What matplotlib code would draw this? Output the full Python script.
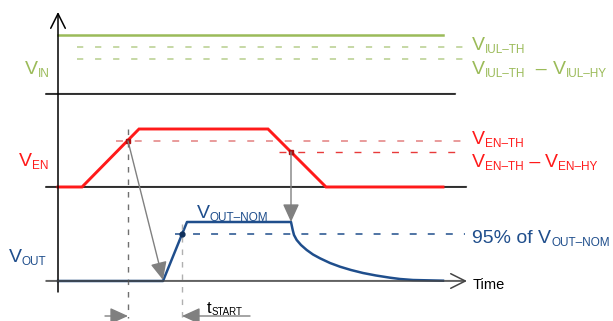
import matplotlib.pyplot as plt

plt.rcParams['font.family'] = ['Liberation Sans', 'DejaVu Sans']
plt.rcParams['lines.scale_dashes'] = False

# 图中坐标（像素单位，y 向下）
# VIN 通道
vin_t = [58, 443]
vin_level = 35
iul_th = 47
iul_th_hy = 59
vin_base = 94

# EN 通道
en_t = [58, 82, 139, 268, 326, 443]
en_v = [187, 187, 129, 129, 187, 187]
en_th = 141
en_th_hy = 152
en_base = 187
en_rise_hit = (128, 141)
en_fall_hit = (291, 152)

# OUT 通道（衰减曲线从图上读点）
out_t = [58, 163, 187, 291, 292.7, 294, 296.7, 301, 306.7, 313, 320, 330,
         340, 351, 363, 376, 390, 400, 413, 443]
out_v = [281, 281, 222, 222, 230, 235, 240, 245, 250, 254.5, 258.3, 263,
         266.7, 270, 273, 275.5, 277.7, 279, 280, 280.7]
out_95 = 234
out_base = 281
out_95_hit = (182, 234)

# 颜色
green = '#9bbb59'
green_d = '#bcd296'
red = '#ff1a1a'
red_d1 = '#e58a8a'
red_d2 = '#e83a3a'
blue = '#1f4e8c'
gray = '#808080'

fig = plt.figure(figsize=(6.13, 3.21), dpi=100)
ax = fig.add_axes([0, 0, 1, 1])
ax.set_xlim(0, 613)
ax.set_ylim(321, 0)
ax.axis('off')
renderer = fig.canvas.get_renderer()


def label(x, y, parts, color):
    # parts: (文字, 字号, 下移像素)；依次排开
    for s, size, dy in parts:
        t = ax.text(x, y + dy, s, color=color, fontsize=size, va='baseline')
        x += t.get_window_extent(renderer).width


# 纵轴
ax.annotate('', xy=(58, 12), xytext=(58, 292),
            arrowprops=dict(arrowstyle='->,head_length=0.7,head_width=0.35',
                            color='black', lw=1.1, mutation_scale=15,
                            shrinkA=0, shrinkB=0))

# 基线
for y, x1 in [(vin_base, 455), (en_base, 466)]:
    ax.plot([46, x1], [y - 1, y - 1], color='#c8c8c8', lw=1.0)
    ax.plot([46, x1], [y, y], color='black', lw=1.1)
ax.plot([46, 463], [out_base - 1, out_base - 1], color='#c8c8c8', lw=1.0)
ax.annotate('', xy=(467, out_base), xytext=(46, out_base),
            arrowprops=dict(arrowstyle='->,head_length=0.7,head_width=0.35',
                            color='#444444', lw=1.1, mutation_scale=15,
                            shrinkA=0, shrinkB=0))

# VIN
ax.plot(vin_t, [vin_level, vin_level], color=green, lw=1.8)
ax.plot([77, 463], [iul_th, iul_th], color=green_d, lw=1.2, dashes=(4.5, 8.5))
ax.plot([77, 463], [iul_th_hy, iul_th_hy], color=green_d, lw=1.2, dashes=(4.5, 8.5))

# EN
ax.plot([116, 465], [en_th, en_th], color=red_d1, lw=1.2, dashes=(5, 8.5))
ax.plot([279, 466], [en_th_hy, en_th_hy], color=red_d2, lw=1.0, dashes=(5, 8.5))
ax.plot(en_t, en_v, color=red, lw=2.1, solid_joinstyle='miter')

# OUT
ax.plot([175, 465], [out_95, out_95], color=blue, lw=1.1, dashes=(5, 8))
ax.plot(out_t, out_v, color=blue, lw=1.8)

# 竖虚线
ax.plot([en_rise_hit[0]] * 2, [129, 318], color='#707070', lw=1.0, dashes=(4, 5))
ax.plot([out_95_hit[0]] * 2, [224, 318], color='#b0b0b0', lw=1.0, dashes=(4, 5))

# 箭头
head = '-|>,head_length=0.55,head_width=0.25'
for tip, tail in [((163, 280), en_rise_hit), ((291, 222), en_fall_hit),
                  ((128, 316), (105, 316)), ((182, 316), (250, 316))]:
    ax.annotate('', xy=tip, xytext=tail,
                arrowprops=dict(arrowstyle=head, color=gray, lw=1.0,
                                mutation_scale=20, shrinkA=0, shrinkB=0))

# 标记点
ax.plot(*en_rise_hit, marker='s', ms=3.5, color='#b01010')
ax.plot(*en_fall_hit, marker='s', ms=3.5, color='#b01010')
ax.plot(*out_95_hit, marker='o', ms=3.5, color='#10305c')

# 文字
big, sub = 14, 8.5
label(25, 74, [('V', big, 0), ('IN', sub, 3)], green)
label(472, 50, [('V', big, 0), ('IUL–TH', sub, 3)], green)
label(472, 74, [('V', big, 0), ('IUL–TH', sub, 3), ('  – ', big, 0),
                ('V', big, 0), ('IUL–HY', sub, 3)], green)
label(19, 166, [('V', big, 0), ('EN', sub, 3)], red)
label(472, 144, [('V', big, 0), ('EN–TH', sub, 3)], red)
label(472, 167, [('V', big, 0), ('EN–TH', sub, 3), (' – ', big, 0),
                 ('V', big, 0), ('EN–HY', sub, 3)], red)
label(197, 218, [('V', big, 0), ('OUT–NOM', sub, 3)], blue)
label(9, 262, [('V', big, 0), ('OUT', sub, 3)], blue)
label(472, 243, [('95% of V', big, 0), ('OUT–NOM', sub, 3)], blue)
ax.text(473, 289, 'Time', color='black', fontsize=10.5, va='baseline')
label(207, 313, [('t', 12, 0), ('START', 7, 2)], 'black')

fig.savefig('out.png', dpi=100)
